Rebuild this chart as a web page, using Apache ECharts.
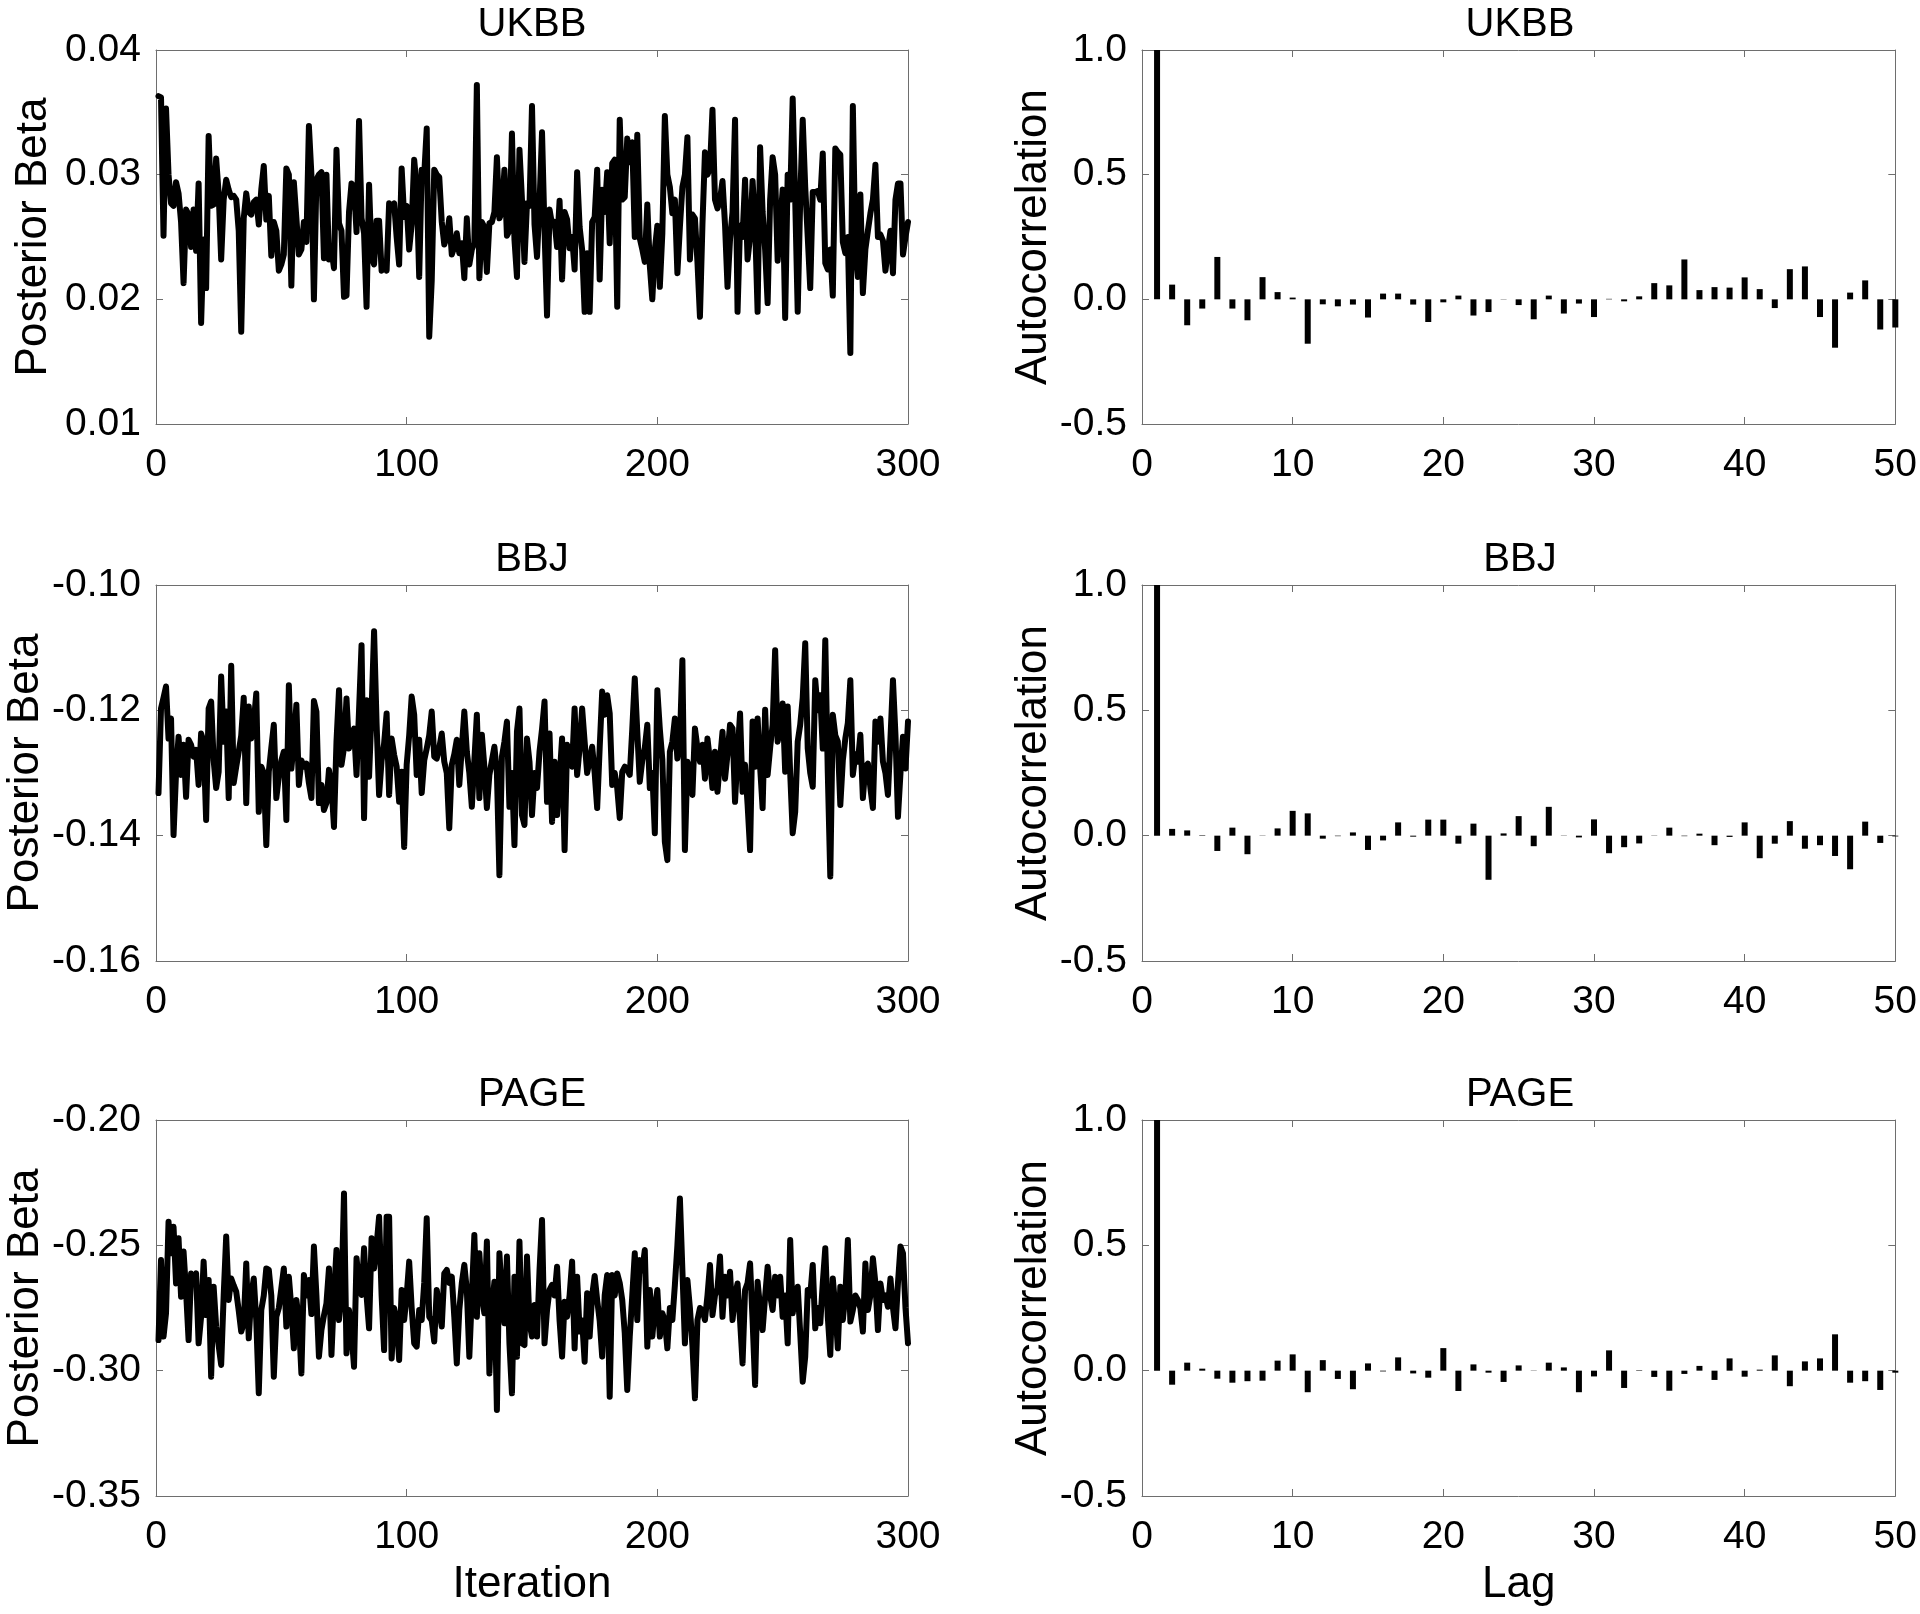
<!DOCTYPE html>
<html>
<head>
<meta charset="utf-8">
<script src="https://cdn.jsdelivr.net/npm/echarts/dist/echarts.min.js"></script>
<style>
html,body{margin:0;padding:0;background:#fff;}
#chart{width:1920px;height:1614px;}
</style>
</head>
<body>
<div id="chart"></div>
<script>
// ---------- DATA ----------
const panelTitles = ['UKBB', 'BBJ', 'PAGE'];
const iterTicks = [0, 100, 200, 300];
const lagTicks = [0, 10, 20, 30, 40, 50];
const ukbbYTicks = [0.01, 0.02, 0.03, 0.04];
const bbjYTicks = [-0.16, -0.14, -0.12, -0.10];
const pageYTicks = [-0.35, -0.30, -0.25, -0.20];
const acfYTicks = [-0.5, 0.0, 0.5, 1.0];

const ukbbTrace = [
0.0363,0.0362,0.0251,0.0353,0.0300,0.0277,0.0275,0.0294,0.0285,0.0262,
0.0213,0.0272,0.0268,0.0242,0.0272,0.0239,0.0293,0.0181,0.0248,0.0209,
0.0331,0.0275,0.0276,0.0313,0.0285,0.0232,0.0280,0.0296,0.0288,0.0282,
0.0283,0.0280,0.0255,0.0174,0.0265,0.0285,0.0270,0.0268,0.0278,0.0280,
0.0260,0.0288,0.0307,0.0264,0.0283,0.0235,0.0262,0.0255,0.0223,0.0228,
0.0236,0.0305,0.0300,0.0211,0.0294,0.0265,0.0236,0.0240,0.0262,0.0246,
0.0339,0.0300,0.0200,0.0296,0.0300,0.0302,0.0233,0.0300,0.0232,0.0240,
0.0225,0.0320,0.0261,0.0255,0.0202,0.0203,0.0270,0.0293,0.0290,0.0254,
0.0343,0.0265,0.0253,0.0194,0.0292,0.0234,0.0228,0.0263,0.0263,0.0223,
0.0230,0.0223,0.0277,0.0275,0.0277,0.0250,0.0228,0.0305,0.0266,0.0275,
0.0240,0.0260,0.0312,0.0290,0.0218,0.0304,0.0300,0.0337,0.0170,0.0215,
0.0304,0.0300,0.0298,0.0262,0.0244,0.0250,0.0265,0.0236,0.0242,0.0253,
0.0237,0.0245,0.0217,0.0265,0.0228,0.0240,0.0245,0.0372,0.0217,0.0262,
0.0258,0.0222,0.0261,0.0262,0.0270,0.0314,0.0265,0.0270,0.0304,0.0251,
0.0255,0.0333,0.0248,0.0218,0.0320,0.0280,0.0230,0.0277,0.0275,0.0355,
0.0260,0.0234,0.0277,0.0334,0.0255,0.0187,0.0272,0.0260,0.0262,0.0242,
0.0279,0.0216,0.0270,0.0264,0.0241,0.0250,0.0224,0.0302,0.0258,0.0240,
0.0190,0.0237,0.0190,0.0262,0.0266,0.0304,0.0216,0.0288,0.0270,0.0302,
0.0245,0.0309,0.0312,0.0194,0.0344,0.0280,0.0282,0.0329,0.0310,0.0326,
0.0250,0.0332,0.0249,0.0240,0.0230,0.0276,0.0227,0.0200,0.0240,0.0259,
0.0210,0.0253,0.0347,0.0300,0.0290,0.0269,0.0280,0.0221,0.0258,0.0290,
0.0300,0.0330,0.0232,0.0268,0.0265,0.0230,0.0186,0.0260,0.0318,0.0300,
0.0305,0.0352,0.0280,0.0273,0.0280,0.0295,0.0260,0.0210,0.0248,0.0270,
0.0344,0.0190,0.0259,0.0250,0.0296,0.0232,0.0250,0.0295,0.0260,0.0190,
0.0322,0.0270,0.0240,0.0197,0.0280,0.0314,0.0300,0.0231,0.0260,0.0288,
0.0185,0.0300,0.0280,0.0361,0.0280,0.0190,0.0280,0.0344,0.0290,0.0250,
0.0209,0.0286,0.0286,0.0287,0.0280,0.0317,0.0229,0.0224,0.0240,0.0203,
0.0321,0.0318,0.0316,0.0246,0.0237,0.0250,0.0157,0.0355,0.0240,0.0218,
0.0284,0.0205,0.0240,0.0255,0.0269,0.0280,0.0308,0.0250,0.0252,0.0247,
0.0223,0.0240,0.0255,0.0221,0.0280,0.0293,0.0293,0.0236,0.0250,0.0262
];

const bbjTrace = [
-0.1332,-0.1197,-0.1180,-0.1162,-0.1245,-0.1213,-0.1399,-0.1300,-0.1242,-0.1303,
-0.1255,-0.1338,-0.1247,-0.1255,-0.1274,-0.1263,-0.1319,-0.1237,-0.1250,-0.1375,
-0.1197,-0.1186,-0.1280,-0.1324,-0.1298,-0.1146,-0.1250,-0.1202,-0.1340,-0.1129,
-0.1316,-0.1290,-0.1266,-0.1240,-0.1180,-0.1348,-0.1194,-0.1245,-0.1220,-0.1173,
-0.1362,-0.1290,-0.1300,-0.1415,-0.1298,-0.1260,-0.1223,-0.1340,-0.1306,-0.1280,
-0.1266,-0.1375,-0.1160,-0.1293,-0.1250,-0.1191,-0.1319,-0.1280,-0.1290,-0.1285,
-0.1316,-0.1340,-0.1185,-0.1202,-0.1348,-0.1319,-0.1359,-0.1348,-0.1295,-0.1320,
-0.1386,-0.1250,-0.1168,-0.1287,-0.1260,-0.1181,-0.1261,-0.1240,-0.1229,-0.1303,
-0.1200,-0.1096,-0.1372,-0.1184,-0.1306,-0.1200,-0.1074,-0.1221,-0.1335,-0.1280,
-0.1253,-0.1205,-0.1335,-0.1245,-0.1271,-0.1290,-0.1346,-0.1298,-0.1418,-0.1287,
-0.1240,-0.1178,-0.1207,-0.1303,-0.1247,-0.1332,-0.1280,-0.1261,-0.1240,-0.1202,
-0.1274,-0.1277,-0.1260,-0.1237,-0.1282,-0.1300,-0.1388,-0.1287,-0.1270,-0.1247,
-0.1319,-0.1260,-0.1202,-0.1266,-0.1300,-0.1354,-0.1280,-0.1207,-0.1340,-0.1239,
-0.1290,-0.1356,-0.1303,-0.1280,-0.1258,-0.1300,-0.1463,-0.1274,-0.1250,-0.1218,
-0.1354,-0.1300,-0.1415,-0.1234,-0.1197,-0.1367,-0.1383,-0.1245,-0.1282,-0.1367,
-0.1300,-0.1324,-0.1266,-0.1230,-0.1186,-0.1346,-0.1237,-0.1378,-0.1282,-0.1367,
-0.1309,-0.1245,-0.1423,-0.1255,-0.1270,-0.1290,-0.1197,-0.1303,-0.1260,-0.1197,
-0.1250,-0.1300,-0.1280,-0.1258,-0.1300,-0.1356,-0.1260,-0.1170,-0.1207,-0.1176,
-0.1205,-0.1319,-0.1300,-0.1324,-0.1372,-0.1298,-0.1290,-0.1295,-0.1303,-0.1230,
-0.1149,-0.1234,-0.1314,-0.1280,-0.1260,-0.1223,-0.1324,-0.1300,-0.1396,-0.1168,
-0.1230,-0.1279,-0.1410,-0.1439,-0.1266,-0.1250,-0.1213,-0.1277,-0.1250,-0.1120,
-0.1423,-0.1282,-0.1300,-0.1335,-0.1229,-0.1260,-0.1282,-0.1255,-0.1309,-0.1245,
-0.1280,-0.1324,-0.1266,-0.1330,-0.1280,-0.1234,-0.1309,-0.1270,-0.1223,-0.1229,
-0.1346,-0.1270,-0.1205,-0.1330,-0.1287,-0.1350,-0.1423,-0.1218,-0.1290,-0.1213,
-0.1290,-0.1356,-0.1199,-0.1303,-0.1260,-0.1223,-0.1104,-0.1250,-0.1230,-0.1189,
-0.1298,-0.1194,-0.1300,-0.1396,-0.1362,-0.1250,-0.1223,-0.1180,-0.1093,-0.1261,
-0.1300,-0.1322,-0.1152,-0.1200,-0.1176,-0.1261,-0.1088,-0.1300,-0.1465,-0.1207,
-0.1240,-0.1250,-0.1351,-0.1280,-0.1245,-0.1220,-0.1152,-0.1303,-0.1270,-0.1282,
-0.1239,-0.1340,-0.1290,-0.1285,-0.1324,-0.1356,-0.1218,-0.1250,-0.1213,-0.1282,
-0.1300,-0.1335,-0.1245,-0.1152,-0.1239,-0.1370,-0.1300,-0.1242,-0.1293,-0.1218
];

const pageTrace = [
-0.2878,-0.2559,-0.2864,-0.2771,-0.2406,-0.2532,-0.2426,-0.2652,-0.2472,-0.2705,
-0.2525,-0.2685,-0.2878,-0.2612,-0.2640,-0.2612,-0.2891,-0.2785,-0.2565,-0.2778,
-0.2638,-0.3024,-0.2665,-0.2824,-0.2900,-0.2977,-0.2700,-0.2465,-0.2718,-0.2632,
-0.2660,-0.2685,-0.2760,-0.2844,-0.2811,-0.2572,-0.2871,-0.2700,-0.2632,-0.2800,
-0.3090,-0.2758,-0.2700,-0.2592,-0.2598,-0.2700,-0.3024,-0.2785,-0.2750,-0.2672,
-0.2592,-0.2824,-0.2625,-0.2750,-0.2911,-0.2718,-0.2800,-0.3011,-0.2618,-0.2700,
-0.2638,-0.2774,-0.2505,-0.2700,-0.2944,-0.2838,-0.2780,-0.2731,-0.2592,-0.2937,
-0.2700,-0.2519,-0.2798,-0.2700,-0.2293,-0.2931,-0.2758,-0.2850,-0.2984,-0.2552,
-0.2650,-0.2698,-0.2512,-0.2700,-0.2831,-0.2472,-0.2592,-0.2500,-0.2386,-0.2700,
-0.2918,-0.2386,-0.2386,-0.2951,-0.2750,-0.2798,-0.2957,-0.2678,-0.2798,-0.2700,
-0.2565,-0.2750,-0.2891,-0.2904,-0.2758,-0.2798,-0.2650,-0.2392,-0.2785,-0.2800,
-0.2884,-0.2678,-0.2750,-0.2824,-0.2612,-0.2598,-0.2650,-0.2625,-0.2785,-0.2971,
-0.2758,-0.2650,-0.2578,-0.2678,-0.2944,-0.2700,-0.2459,-0.2785,-0.2532,-0.2700,
-0.2771,-0.2485,-0.3011,-0.2750,-0.2645,-0.3157,-0.2532,-0.2700,-0.2811,-0.2545,
-0.2891,-0.3090,-0.2625,-0.2944,-0.2485,-0.2891,-0.2898,-0.2545,-0.2811,-0.2864,
-0.2738,-0.2864,-0.2600,-0.2399,-0.2891,-0.2758,-0.2678,-0.2658,-0.2700,-0.2585,
-0.2800,-0.2944,-0.2725,-0.2785,-0.2700,-0.2565,-0.2911,-0.2625,-0.2844,-0.2800,
-0.2964,-0.2691,-0.2864,-0.2700,-0.2622,-0.2718,-0.2800,-0.2944,-0.2700,-0.2618,
-0.3104,-0.2618,-0.2700,-0.2612,-0.2650,-0.2718,-0.2850,-0.3077,-0.2864,-0.2700,
-0.2532,-0.2798,-0.2559,-0.2600,-0.2519,-0.2904,-0.2678,-0.2864,-0.2750,-0.2678,
-0.2864,-0.2771,-0.2800,-0.2911,-0.2750,-0.2798,-0.2658,-0.2500,-0.2313,-0.2600,
-0.2891,-0.2638,-0.2750,-0.2900,-0.3110,-0.2798,-0.2750,-0.2758,-0.2798,-0.2700,
-0.2578,-0.2778,-0.2700,-0.2672,-0.2545,-0.2785,-0.2625,-0.2700,-0.2605,-0.2798,
-0.2700,-0.2652,-0.2800,-0.2971,-0.2678,-0.2650,-0.2572,-0.2800,-0.3057,-0.2645,
-0.2750,-0.2838,-0.2705,-0.2585,-0.2700,-0.2758,-0.2625,-0.2700,-0.2625,-0.2785,
-0.2700,-0.2891,-0.2479,-0.2771,-0.2700,-0.2665,-0.2850,-0.3044,-0.2944,-0.2678,
-0.2700,-0.2578,-0.2831,-0.2750,-0.2811,-0.2650,-0.2512,-0.2785,-0.2937,-0.2632,
-0.2750,-0.2911,-0.2665,-0.2798,-0.2700,-0.2479,-0.2804,-0.2758,-0.2700,-0.2718,
-0.2750,-0.2844,-0.2572,-0.2758,-0.2700,-0.2552,-0.2650,-0.2838,-0.2652,-0.2718,
-0.2700,-0.2745,-0.2632,-0.2750,-0.2831,-0.2650,-0.2505,-0.2532,-0.2750,-0.2891
];

// autocorrelation, lags 1..50
const ukbbAcf = [
1.000,0.059,-0.104,-0.037,0.170,-0.037,-0.084,0.089,0.029,0.007,
-0.178,-0.020,-0.028,-0.021,-0.073,0.023,0.023,-0.021,-0.091,-0.012,
0.015,-0.065,-0.051,-0.001,-0.023,-0.080,0.015,-0.057,-0.017,-0.071,
0.002,-0.008,0.012,0.065,0.056,0.160,0.037,0.049,0.047,0.088,
0.041,-0.035,0.121,0.132,-0.071,-0.194,0.027,0.076,-0.121,-0.113
];
const bbjAcf = [
1.000,0.027,0.021,0.002,-0.061,0.032,-0.074,0.001,0.029,0.099,
0.089,-0.012,-0.002,0.013,-0.057,-0.019,0.053,-0.004,0.064,0.064,
-0.032,0.048,-0.176,0.009,0.078,-0.042,0.115,0.001,-0.007,0.065,
-0.070,-0.046,-0.031,-0.001,0.032,-0.002,0.008,-0.038,-0.005,0.053,
-0.090,-0.032,0.058,-0.052,-0.038,-0.081,-0.134,0.056,-0.029,-0.003
];
const pageAcf = [
1.000,-0.056,0.032,0.008,-0.032,-0.048,-0.042,-0.040,0.040,0.065,
-0.086,0.042,-0.033,-0.074,0.029,-0.003,0.053,-0.011,-0.028,0.090,
-0.081,0.025,-0.008,-0.045,0.021,0.001,0.032,0.013,-0.086,-0.023,
0.081,-0.069,0.002,-0.025,-0.080,-0.013,0.019,-0.037,0.049,-0.024,
0.004,0.061,-0.062,0.037,0.049,0.145,-0.048,-0.042,-0.077,-0.008
];

// ---------- CHART ----------
const FONT = '"Liberation Sans", Helvetica, Arial, sans-serif';
const AX = '#6e6e6e';
const TXT = '#000';

const grids = [
  {left:156, top:50, width:752, height:374},
  {left:1142, top:50, width:756, height:374},
  {left:156, top:585, width:752, height:376},
  {left:1142, top:585, width:756, height:376},
  {left:156, top:1120, width:752, height:376},
  {left:1142, top:1120, width:756, height:376}
];
const traces = [ukbbTrace, bbjTrace, pageTrace];
const acfs = [ukbbAcf, bbjAcf, pageAcf];
const traceTicks = [ukbbYTicks, bbjYTicks, pageYTicks];

function step(t){ return +(t[1]-t[0]).toFixed(6); }

const xAxes = [], yAxes = [], series = [], titles = [];

function addAxes(g, xt, yt, xDec, yDec, xName, yName, yGap){
  const base = {
    type:'value', gridIndex:g, min:xt[0], max:xt[xt.length-1], interval:step(xt),
    splitLine:{show:false},
    axisLine:{show:true, onZero:false, lineStyle:{color:AX, width:1}},
    axisTick:{show:true, inside:true, length:7, lineStyle:{color:AX, width:1}}
  };
  xAxes.push(Object.assign({}, base, {
    position:'bottom',
    axisLabel:{show:true, fontSize:39, color:TXT, fontFamily:FONT, margin:22,
      formatter:v=>v.toFixed(xDec)},
    name:xName, nameLocation:'middle', nameGap:67,
    nameTextStyle:{fontSize:44, color:TXT, fontFamily:FONT}
  }));
  xAxes.push(Object.assign({}, base, {position:'top', axisLabel:{show:false}}));
  const ybase = {
    type:'value', gridIndex:g, min:yt[0], max:yt[yt.length-1], interval:step(yt),
    splitLine:{show:false},
    axisLine:{show:true, onZero:false, lineStyle:{color:AX, width:1}},
    axisTick:{show:true, inside:true, length:7, lineStyle:{color:AX, width:1}}
  };
  yAxes.push(Object.assign({}, ybase, {
    position:'left',
    axisLabel:{show:true, fontSize:39, color:TXT, fontFamily:FONT, margin:15,
      formatter:v=>v.toFixed(yDec)},
    name:yName, nameLocation:'middle', nameGap:yGap, nameRotate:90,
    nameTextStyle:{fontSize:44, color:TXT, fontFamily:FONT}
  }));
  yAxes.push(Object.assign({}, ybase, {position:'right', axisLabel:{show:false}}));
}

for (let r = 0; r < 3; r++) {
  const gL = 2*r, gR = 2*r+1;
  const last = r === 2;
  addAxes(gL, iterTicks, traceTicks[r], 0, 2, last ? 'Iteration' : '', 'Posterior Beta', 100);
  addAxes(gR, lagTicks, acfYTicks, 0, 1, last ? 'Lag' : '', 'Autocorrelation', 86);

  series.push({
    type:'line', xAxisIndex:2*gL, yAxisIndex:2*gL,
    data: traces[r].map((v,i)=>[i+1, v]),
    showSymbol:false, symbol:'none', silent:true, clip:true,
    lineStyle:{color:'#000', width:6, join:'round', cap:'round'}
  });
  series.push({
    type:'bar', xAxisIndex:2*gR, yAxisIndex:2*gR,
    data: acfs[r].map((v,i)=>[i+1, v]),
    barWidth:6, silent:true,
    itemStyle:{color:'#000'}
  });

  const topT = grids[gL].top - 45;
  const tStyle = {fontSize:40, fontWeight:'normal', color:TXT, fontFamily:FONT};
  titles.push({text:panelTitles[r], left: grids[gL].left + grids[gL].width/2, top: topT,
    textAlign:'center', padding:0, textStyle:tStyle});
  titles.push({text:panelTitles[r], left: grids[gR].left + grids[gR].width/2, top: topT,
    textAlign:'center', padding:0, textStyle:tStyle});
}

const chart = echarts.init(document.getElementById('chart'), null, {renderer:'canvas'});
chart.setOption({
  backgroundColor:'#fff',
  animation:false,
  title: titles,
  grid: grids,
  xAxis: xAxes,
  yAxis: yAxes,
  series: series
});
</script>
</body>
</html>
